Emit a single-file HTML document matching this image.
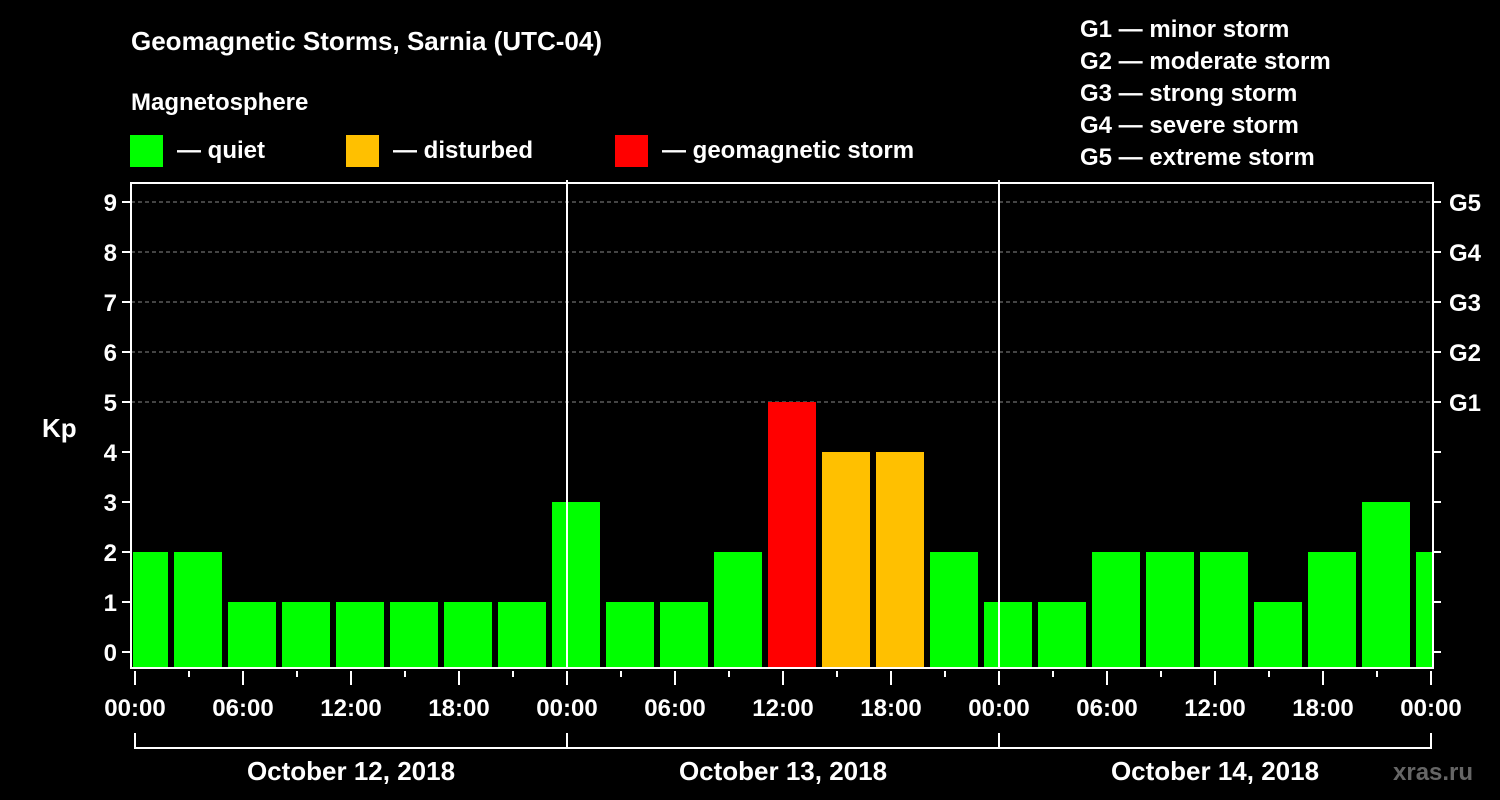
<!DOCTYPE html>
<html><head><meta charset="utf-8"><style>
html,body{margin:0;padding:0;background:#000;}
svg{display:block;font-family:"Liberation Sans",Arial,sans-serif;font-weight:bold;}
</style></head><body>
<svg id="chart" width="1500" height="800" viewBox="0 0 1500 800">
<rect x="0" y="0" width="1500" height="800" fill="#000"/>
<text x="131" y="50" fill="#fff" font-size="26">Geomagnetic Storms, Sarnia (UTC-04)</text>
<text x="131" y="110" fill="#fff" font-size="24">Magnetosphere</text>
<g><rect x="130" y="135" width="33" height="32" fill="#00ff00"/><text x="177" y="158" fill="#fff" font-size="24">— quiet</text></g>
<g><rect x="346" y="135" width="33" height="32" fill="#ffc000"/><text x="393" y="158" fill="#fff" font-size="24">— disturbed</text></g>
<g><rect x="615" y="135" width="33" height="32" fill="#ff0000"/><text x="662" y="158" fill="#fff" font-size="24">— geomagnetic storm</text></g>
<g fill="#fff" font-size="24">
<text x="1080" y="37">G1 — minor storm</text>
<text x="1080" y="69">G2 — moderate storm</text>
<text x="1080" y="101">G3 — strong storm</text>
<text x="1080" y="133">G4 — severe storm</text>
<text x="1080" y="165">G5 — extreme storm</text>
</g>
<text x="42" y="437" fill="#fff" font-size="26">Kp</text>
<text x="1393" y="780" fill="#666" font-size="24">xras.ru</text>
<g id="plot"></g>
</svg>
<script>
const values = [2,2,1,1,1,1,1,1,3,1,1,2,5,4,4,2,1,1,2,2,2,1,2,3,2];
const yTicks = [0,1,2,3,4,5,6,7,8,9];
const gLabels = ["G1","G2","G3","G4","G5"];
const gLevels = [5,6,7,8,9];
const timeLabels = ["00:00","06:00","12:00","18:00","00:00","06:00","12:00","18:00","00:00","06:00","12:00","18:00","00:00"];
const dayLabels = ["October 12, 2018","October 13, 2018","October 14, 2018"];

const NS="http://www.w3.org/2000/svg";
const g=document.getElementById('plot');
const L=131, R=1433, T=183, B=668, X0=135, HOUR=18;
const y=v=>652-v*50;
const xh=h=>X0+h*HOUR;
function mk(t,a,p){const e=document.createElementNS(NS,t);for(const k in a)e.setAttribute(k,a[k]);(p||g).appendChild(e);return e;}
function color(v){return v>=5?'#ff0000':(v>=4?'#ffc000':'#00ff00');}

yTicks.forEach(v=>{
  if(v>=5){const l=mk('line',{x1:L,x2:R,y1:y(v),y2:y(v),stroke:'#888','stroke-dasharray':'4,3','stroke-width':1});
  
  }
  const t=mk('line',{x1:L-9,x2:L,y1:y(v),y2:y(v),stroke:'#fff','stroke-width':2});
  
  
  const tr=mk('line',{x1:R,x2:R+8,y1:y(v),y2:y(v),stroke:'#fff','stroke-width':2});
  
  
  const tx=mk('text',{x:L-14,y:y(v)+9,fill:'#fff','font-size':24,'text-anchor':'end'});
  tx.textContent=v;
  
  
});
gLevels.forEach((v,i)=>{
  const tx=mk('text',{x:1449,y:y(v)+9,fill:'#fff','font-size':24});
  tx.textContent=gLabels[i];
  
  
});
const clip=mk('clipPath',{id:'pc'});mk('rect',{x:L+2,y:T,width:R-L-3,height:B-T},clip);
values.forEach((v,i)=>{
  const c=xh(0.5+3*i);
  const b=mk('rect',{x:c-24,y:y(v),width:48,height:B-1-y(v),fill:color(v),'clip-path':'url(#pc)'});
  
  
});
// frame
const f=mk('rect',{x:L,y:T,width:R-L,height:B-T,fill:'none',stroke:'#fff','stroke-width':2});


[24,48].forEach(h=>{
  const l=mk('line',{x1:xh(h),x2:xh(h),y1:180,y2:B,stroke:'#fff','stroke-width':2});
  
  
});
for(let h=0;h<=72;h+=3){
  const major=h%6===0;
  const t=mk('line',{x1:xh(h),x2:xh(h),y1:B+3,y2:B+(major?17:9),stroke:'#fff','stroke-width':2});
  
  
}
timeLabels.forEach((s,i)=>{
  const tx=mk('text',{x:xh(i*6),y:716,fill:'#fff','font-size':24,'text-anchor':'middle'});
  tx.textContent=s;
  
  
});
const br=mk('path',{d:`M${xh(0)} 733 V748 H${xh(72)} V733 M${xh(24)} 733 V748 M${xh(48)} 733 V748`,fill:'none',stroke:'#fff','stroke-width':2});


dayLabels.forEach((s,i)=>{
  const tx=mk('text',{x:xh(12+24*i),y:780,fill:'#fff','font-size':26,'text-anchor':'middle'});
  tx.textContent=s;
  
  
});
</script>
</body></html>
